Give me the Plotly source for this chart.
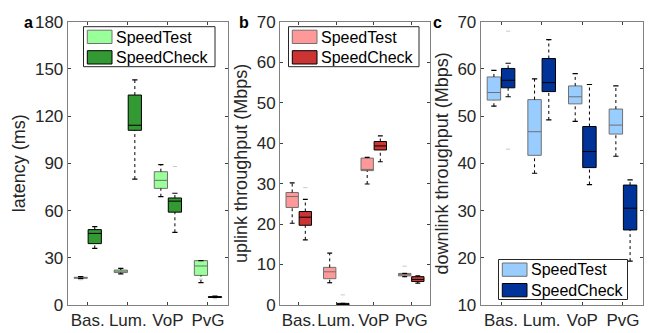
import plotly.graph_objects as go
import numpy as np

categories = ["Bas.", "Lum.", "VoP", "PvG"]
series_names = ["SpeedTest", "SpeedCheck"]

# latency (ms)
lat_st_q1 = [17.0, 20.6, 74.1, 18.8]
lat_st_med = [17.3, 21.5, 79.2, 24.8]
lat_st_q3 = [17.6, 22.2, 84.7, 28.2]
lat_st_lo = [16.8, 19.8, 68.8, 14.2]
lat_st_hi = [18.0, 23.3, 89.2, 28.2]
lat_st_out = [[16.0], [], [], [16.5]]
lat_sc_q1 = [39.0, 111.0, 59.0, 4.8]
lat_sc_med = [45.5, 114.2, 66.0, 5.1]
lat_sc_q3 = [47.9, 133.4, 68.0, 5.3]
lat_sc_lo = [36.0, 80.0, 46.2, 4.8]
lat_sc_hi = [49.8, 143.0, 71.0, 5.6]
lat_sc_out = [[], [], [88.0], [4.0]]

# uplink throughput (Mbps)
up_st_q1 = [24.1, 6.5, 33.2, 7.2]
up_st_med = [26.8, 8.2, 33.5, 7.5]
up_st_q3 = [27.8, 9.3, 36.3, 7.8]
up_st_lo = [20.2, 5.5, 29.9, 7.0]
up_st_hi = [30.2, 12.8, 36.5, 7.8]
up_st_out = [[], [], [], [9.6]]
up_sc_q1 = [19.7, 0.0, 38.3, 5.8]
up_sc_med = [21.7, 0.15, 39.3, 6.3]
up_sc_q3 = [23.1, 0.4, 40.4, 7.0]
up_sc_lo = [16.1, 0.0, 35.4, 5.4]
up_sc_hi = [26.1, 0.4, 41.8, 7.2]
up_sc_out = [[29.0], [2.5], [], []]

# downlink throughput (Mbps)
dn_st_q1 = [53.4, 41.7, 52.6, 46.2]
dn_st_med = [55.0, 46.7, 54.1, 48.1]
dn_st_q3 = [58.3, 53.5, 56.4, 51.5]
dn_st_lo = [52.1, 37.9, 48.9, 41.5]
dn_st_hi = [59.7, 57.9, 59.0, 56.4]
dn_st_out = [[], [], [], []]
dn_sc_q1 = [56.0, 55.2, 39.1, 25.9]
dn_sc_med = [57.6, 57.1, 42.5, 30.5]
dn_sc_q3 = [60.1, 62.2, 47.8, 35.4]
dn_sc_lo = [54.1, 49.2, 35.5, 19.3]
dn_sc_hi = [61.2, 66.2, 56.7, 36.5]
dn_sc_out = [[68.0, 43.0], [], [], []]

y_titles = ["latency (ms)", "uplink throughput (Mbps)", "downlink throughput (Mbps)"]
y_ranges = [[0, 180], [0, 70], [10, 70]]
y_ticks = [[0, 30, 60, 90, 120, 150, 180], list(range(0, 80, 10)), list(range(10, 80, 10))]
panel_letters = ["a", "b", "c"]

panels = [
    [(lat_st_q1, lat_st_med, lat_st_q3, lat_st_lo, lat_st_hi, lat_st_out),
     (lat_sc_q1, lat_sc_med, lat_sc_q3, lat_sc_lo, lat_sc_hi, lat_sc_out)],
    [(up_st_q1, up_st_med, up_st_q3, up_st_lo, up_st_hi, up_st_out),
     (up_sc_q1, up_sc_med, up_sc_q3, up_sc_lo, up_sc_hi, up_sc_out)],
    [(dn_st_q1, dn_st_med, dn_st_q3, dn_st_lo, dn_st_hi, dn_st_out),
     (dn_sc_q1, dn_sc_med, dn_sc_q3, dn_sc_lo, dn_sc_hi, dn_sc_out)],
]

fills = [["#99FF99", "#339933"], ["#FF9999", "#CC3333"], ["#99CCFF", "#003399"]]
outlines = ["#707070", "#000000"]

W, H = 653, 333
x_doms = [[67.7 / W, 228.0 / W], [280.0 / W, 430.0 / W], [480.7 / W, 643.3 / W]]
y_dom = [(H - 305.0) / H, (H - 21.7) / H]
# legend boxes (pixel layout): left, top, right
legend_boxes = [(83.5, 26.7, 215.0), (288.5, 26.7, 419.0), (498.5, 259.5, 627.5)]

OFF = 0.175
BW = 0.33
CAP = 0.065
FONT = "Liberation Sans, Arial, Helvetica, sans-serif"
TXT = "#262626"

fig = go.Figure()
pos = np.arange(1, len(categories) + 1)


def px(x):
    return x / W


def py(y):
    return (H - y) / H


for p, series in enumerate(panels):
    xa = "x" if p == 0 else f"x{p+1}"
    ya = "y" if p == 0 else f"y{p+1}"
    for s, (q1, med, q3, lo, hi, out) in enumerate(series):
        xs = pos + (-OFF if s == 0 else OFF)
        fig.add_trace(go.Box(
            x=xs, q1=q1, median=med, q3=q3, lowerfence=q1, upperfence=q3,
            width=BW, fillcolor=fills[p][s], line=dict(color=outlines[s], width=1),
            whiskerwidth=0, name=series_names[s], showlegend=False,
            hoverinfo="skip", xaxis=xa, yaxis=ya, boxpoints=False,
        ))
        # dotted whiskers
        wx, wy = [], []
        for i in range(len(categories)):
            wx += [xs[i], xs[i], None, xs[i], xs[i], None]
            wy += [q3[i], hi[i], None, lo[i], q1[i], None]
        fig.add_trace(go.Scatter(x=wx, y=wy, mode="lines", line=dict(color="#000000", width=1, dash="dot"),
                                 showlegend=False, hoverinfo="skip", xaxis=xa, yaxis=ya))
        # caps
        cx, cy = [], []
        for i in range(len(categories)):
            cx += [xs[i] - CAP, xs[i] + CAP, None, xs[i] - CAP, xs[i] + CAP, None]
            cy += [hi[i], hi[i], None, lo[i], lo[i], None]
        fig.add_trace(go.Scatter(x=cx, y=cy, mode="lines", line=dict(color="#000000", width=1.2),
                                 showlegend=False, hoverinfo="skip", xaxis=xa, yaxis=ya))
        # outliers
        ox, oy = [], []
        for i in range(len(categories)):
            for v in out[i]:
                ox.append(xs[i]); oy.append(v)
        if ox:
            fig.add_trace(go.Scatter(x=ox, y=oy, mode="markers",
                                     marker=dict(symbol="line-ew", size=3, line=dict(color="#c8c8c8", width=1)),
                                     showlegend=False, hoverinfo="skip", xaxis=xa, yaxis=ya))

    axis_common = dict(showline=True, linecolor="#808080", linewidth=1, mirror="ticks",
                       ticks="inside", ticklen=3, tickcolor="#404040", showgrid=False, zeroline=False,
                       automargin=False, tickangle=0,
                       tickfont=dict(family=FONT, size=17, color=TXT))
    fig.layout[f"xaxis{'' if p == 0 else p+1}"] = dict(
        domain=x_doms[p], range=[0.5, 4.5], tickvals=list(pos), ticktext=categories,
        anchor=ya, **axis_common)
    fig.layout[f"yaxis{'' if p == 0 else p+1}"] = dict(
        domain=y_dom, range=y_ranges[p], tickvals=y_ticks[p], anchor=xa,
        title=dict(text=y_titles[p], font=dict(family=FONT, size=18, color=TXT), standoff=4),
        **axis_common)

    # legend box
    l, t, r = legend_boxes[p]
    fig.add_shape(type="rect", xref="paper", yref="paper", x0=px(l), x1=px(r), y0=py(t + 40), y1=py(t),
                  fillcolor="white", line=dict(color="#262626", width=1), layer="above")
    for s in range(2):
        st = t + 3.5 + s * 20.5
        fig.add_shape(type="rect", xref="paper", yref="paper", x0=px(l + 3.8), x1=px(l + 28.5),
                      y0=py(st + 13.3), y1=py(st), fillcolor=fills[p][s],
                      line=dict(color=outlines[s], width=1), layer="above")
        fig.add_annotation(text=series_names[s], xref="paper", yref="paper", x=px(l + 30),
                           y=py(st + 6.8), xanchor="left", yanchor="middle", showarrow=False,
                           font=dict(family=FONT, size=16, color="#000000"))

    fig.add_annotation(text=f"<b>{panel_letters[p]}</b>", xref="paper", yref="paper",
                       x=px([22.0, 244.0, 444.0][p]), y=py(12.0), showarrow=False,
                       font=dict(family=FONT, size=16, color="#000000"))

fig.update_layout(width=W, height=H, margin=dict(l=0, r=0, t=0, b=0),
                  plot_bgcolor="white", paper_bgcolor="white", showlegend=False)

fig.write_html("out.html")
